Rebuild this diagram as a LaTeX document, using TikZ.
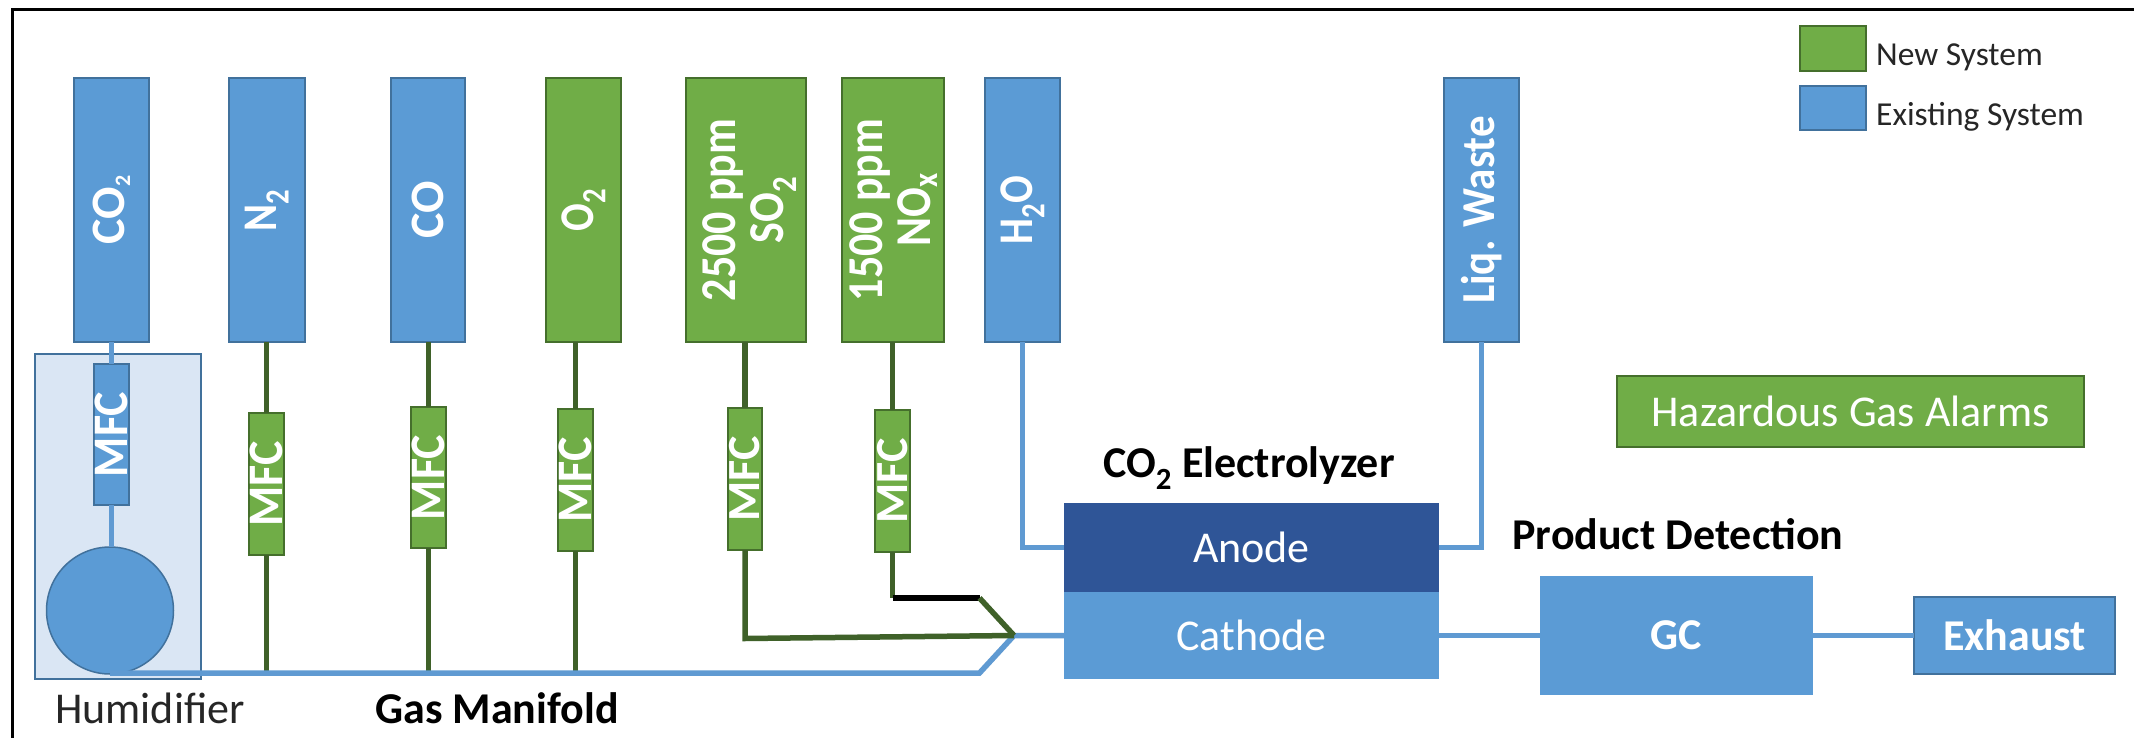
\documentclass[tikz,border=0pt]{standalone}
\usepackage{fontspec}
\setmainfont{Carlito}
\usetikzlibrary{shapes.geometric}
\definecolor{sysblue}{HTML}{5B9BD5}
\definecolor{sysblueline}{HTML}{41719C}
\definecolor{sysgreen}{HTML}{70AD47}
\definecolor{sysgreenline}{HTML}{456F2C}
\definecolor{anodeblue}{HTML}{2F5597}
\definecolor{humfill}{HTML}{DAE6F4}
\definecolor{pipeblue}{HTML}{5F9AD2}
\definecolor{pipegreen}{HTML}{3F6129}
\newcommand{\pbox}[7]{%
  \pgfmathsetmacro\cxx{(#3+#5)/2}\pgfmathsetmacro\cyy{(#4+#6)/2}%
  \pgfmathsetmacro\ww{#5-#3}\pgfmathsetmacro\hh{#6-#4}%
  \node[#2,minimum width=\ww pt,minimum height=\hh pt] (#1) at (\cxx,\cyy) {#7};}
\newcommand{\rot}[2][1.18]{\makebox[0pt][c]{\rotatebox{90}{\scalebox{1}[#1]{#2}}}}
\newcommand{\rottwo}[2]{\makebox[0pt][c]{\hspace{8pt}\rotatebox{90}{\scalebox{1}[1.14]{\begin{tabular}{@{}c@{}}#1\\#2\end{tabular}}}}}
\newcommand{\sub}[1]{\textsubscript{#1}}
\newcommand{\tinysub}[1]{\raisebox{-0.12em}{\fontsize{22}{24}\selectfont #1}}
\tikzset{
  pblue/.style={rectangle,inner sep=0pt,outer sep=0pt,fill=sysblue,draw=sysblueline,line width=1.5pt,text=white},
  pgreen/.style={rectangle,inner sep=0pt,outer sep=0pt,fill=sysgreen,draw=sysgreenline,line width=1.5pt,text=white},
  flat/.style={rectangle,inner sep=0pt,outer sep=0pt,text=white},
  gas/.style={font=\fontsize{41}{50}\selectfont\bfseries},
  gasbig/.style={font=\fontsize{48}{52}\selectfont\bfseries},
  gastwo/.style={font=\fontsize{44}{42}\selectfont\bfseries},
  gasliq/.style={font=\fontsize{43}{50}\selectfont\bfseries},
  mfcfont/.style={font=\fontsize{46}{50}\selectfont\bfseries},
  body/.style={font=\fontsize{44}{50}\selectfont},
  bodybold/.style={font=\fontsize{44}{50}\selectfont\bfseries},
  heading/.style={font=\fontsize{44}{50}\selectfont\bfseries,text=black,inner sep=0pt},
  plain/.style={font=\fontsize{44}{50}\selectfont,text=black!85,inner sep=0pt},
  legendtext/.style={font=\fontsize{33.5}{38}\selectfont,text=black!85,inner sep=0pt,anchor=west},
  bluepipe/.style={draw=pipeblue,line width=5.5pt,line join=miter},
  greenpipe/.style={draw=pipegreen,line width=5.5pt,line join=miter},
  blackpipe/.style={draw=black,line width=6.5pt},
}
\begin{document}
\begin{tikzpicture}[x=1pt,y=-1pt]
\useasboundingbox (0,0) rectangle (2134,738);
\fill[white] (0,0) rectangle (2134,738);
\coordinate (frameA) at (12,738);
\coordinate (frameB) at (12,10);
\coordinate (frameC) at (2134,10);
\draw[black,line width=3pt] (frameA) -- (frameB) -- (frameC);

% humidifier back panel
\pbox{hum}{rectangle,inner sep=0pt,outer sep=0pt,fill=humfill,draw=sysblueline,line width=2pt}{35}{354}{201}{679}{}

% connector coordinates
\coordinate (junction) at (1014,635.5);
\coordinate (manifoldbend) at (979.5,673);
\coordinate (nbend) at (979.5,598);

\node[ellipse,inner sep=0pt,outer sep=0pt,minimum width=127pt,minimum height=127pt,fill=sysblue,draw=sysblueline,line width=1.5pt] (bubbler) at (110,610.5) {};

% boxes
\pbox{co2}{pblue,gasbig}{74}{78}{149}{342}{\rot[1]{CO\tinysub{2}}}
\pbox{n2}{pblue,gas}{229}{78}{305}{342}{\rot{N\sub{2}}}
\pbox{co}{pblue,gasbig}{391}{78}{465}{342}{\rot[1]{CO}}
\pbox{o2}{pgreen,gas}{546}{78}{621}{342}{\rot{O\sub{2}}}
\pbox{so2}{pgreen,gastwo}{686}{78}{806}{342}{\rottwo{2500 ppm}{SO\sub{2}}}
\pbox{nox}{pgreen,gastwo}{842}{78}{944}{342}{\rottwo{1500 ppm}{NO\sub{x}}}
\pbox{h2o}{pblue,gas}{985}{78}{1060}{342}{\rot{H\sub{2}O}}
\pbox{liq}{pblue,gasliq}{1444}{78}{1519}{342}{\rot[1.1]{Liq. Waste}}

\pbox{mfca}{pblue,mfcfont}{94}{364}{129}{505}{\rot[1.08]{MFC}}
\pbox{mfcb}{pgreen,mfcfont}{249}{413}{284}{555}{\rot[1.08]{MFC}}
\pbox{mfcc}{pgreen,mfcfont}{411}{407}{446}{548}{\rot[1.08]{MFC}}
\pbox{mfcd}{pgreen,mfcfont}{558}{409}{593}{551}{\rot[1.08]{MFC}}
\pbox{mfce}{pgreen,mfcfont}{728}{408}{762}{550}{\rot[1.0]{MFC}}
\pbox{mfcf}{pgreen,mfcfont}{875}{410}{910}{552}{\rot[1.0]{MFC}}

\pbox{anode}{flat,fill=anodeblue,body}{1064}{503}{1439}{592}{Anode}
\pbox{cathode}{flat,fill=sysblue,body}{1064}{592}{1439}{679}{Cathode}
\pbox{gc}{flat,fill=sysblue,bodybold}{1540}{576}{1813}{695}{GC}
\pbox{exhaust}{pblue,bodybold}{1914}{597}{2115}{674}{Exhaust}
\pbox{alarms}{pgreen,body}{1617}{376}{2084}{447}{Hazardous Gas Alarms}

\pbox{lnew}{pgreen}{1800}{26}{1866}{71}{}
\pbox{lold}{pblue}{1800}{86}{1866}{130}{}
\node[legendtext] (tnew) at (1876,57) {New System};
\node[legendtext] (told) at (1876,117) {Existing System};

% labels
\node[heading] (telectro) at (1249,468) {CO\sub{2} Electrolyzer};
\node[heading] (tproduct) at (1678,534) {Product Detection};
\node[plain] (thumid) at (150,708) {Humidifier};
\node[heading] (tmanifold) at (497,708) {Gas Manifold};

% connectors
\draw[bluepipe] (mfca.north |- co2.south) -- (mfca.north);
\draw[bluepipe] (mfca.south) -- (mfca.south |- bubbler.north);
\draw[greenpipe] (mfcb.north |- n2.south) -- (mfcb.north);
\draw[greenpipe] (mfcc.north |- co.south) -- (mfcc.north);
\draw[greenpipe] (mfcd.north |- o2.south) -- (mfcd.north);
\draw[greenpipe] (mfce.north |- so2.south) -- (mfce.north);
\draw[greenpipe] (mfcf.north |- nox.south) -- (mfcf.north);
\draw[greenpipe] (mfcb.south) -- (mfcb.south |- manifoldbend);
\draw[greenpipe] (mfcc.south) -- (mfcc.south |- manifoldbend);
\draw[greenpipe] (mfcd.south) -- (mfcd.south |- manifoldbend);
\draw[bluepipe] (bubbler.south |- manifoldbend) -- (manifoldbend) -- (junction) -- (cathode.west |- junction);
\draw[greenpipe] (mfce.south) -- ([yshift=-3pt]mfce.south |- junction) -- (junction);
\draw[greenpipe] (mfcf.south) -- (mfcf.south |- nbend);
\draw[blackpipe] (mfcf.south |- nbend) -- (nbend);
\draw[greenpipe] (nbend) -- (junction);
\draw[bluepipe] (h2o.south) |- (anode.west);
\draw[bluepipe] (liq.south) |- (anode.east);
\draw[bluepipe] (cathode.east) -- (gc.west);
\draw[bluepipe] (gc.east) -- (exhaust.west);
\end{tikzpicture}
\end{document}
